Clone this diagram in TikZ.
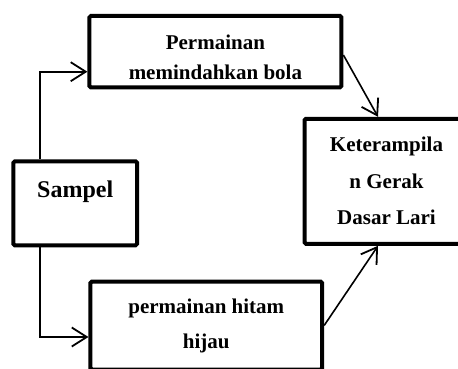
\documentclass[tikz,border=0pt]{standalone}
\usepackage{fontspec}
\setmainfont{Liberation Serif}
\usetikzlibrary{arrows.meta}

\begin{document}
\begin{tikzpicture}[
    x=1pt, y=-1pt,
    box/.style={rectangle, draw, line width=4pt, rounded corners=1.5pt, inner sep=0pt, align=center, font=\bfseries\fontsize{21}{30}\selectfont},
    arrow/.style={-{Straight Barb[length=15pt, width=19pt, line width=1.8pt]}, line width=1.6pt}
]
\useasboundingbox (0,0) rectangle (458,368);
\clip (0,0) rectangle (458,368);

% Nodes
\node[box, minimum width=252pt, minimum height=71.5pt, text height=56pt] (game1) at (215.4,51.7) {Permainan\\memindahkan bola};

\node[box, minimum width=123.7pt, minimum height=84pt, text depth=29pt, font=\bfseries\fontsize{24}{29}\selectfont] (sample) at (75.2,203.3) {Sampel};

\node[box, minimum width=164pt, minimum height=125pt, font=\bfseries\fontsize{21}{36.5}\selectfont] (skill) at (386.5,181.3) {Keterampila\\n Gerak\\Dasar Lari};

\node[box, minimum width=231.7pt, minimum height=88pt, font=\bfseries\fontsize{21}{35}\selectfont] (game2) at (206.3,325.5) {permainan hitam\\hijau};

% Arrows
\draw[arrow] ([xshift=-35pt]sample.north) |- ([yshift=-20pt]game1.west);
\draw[arrow] ([xshift=-35pt]sample.south) |- ([yshift=-11.5pt]game2.west);
\draw[arrow] ([yshift=-3.3pt]game1.east) -- ([xshift=-8.5pt]skill.north);
\draw[arrow] (game2.east) -- ([xshift=-8.5pt]skill.south);

\end{tikzpicture}
\end{document}
